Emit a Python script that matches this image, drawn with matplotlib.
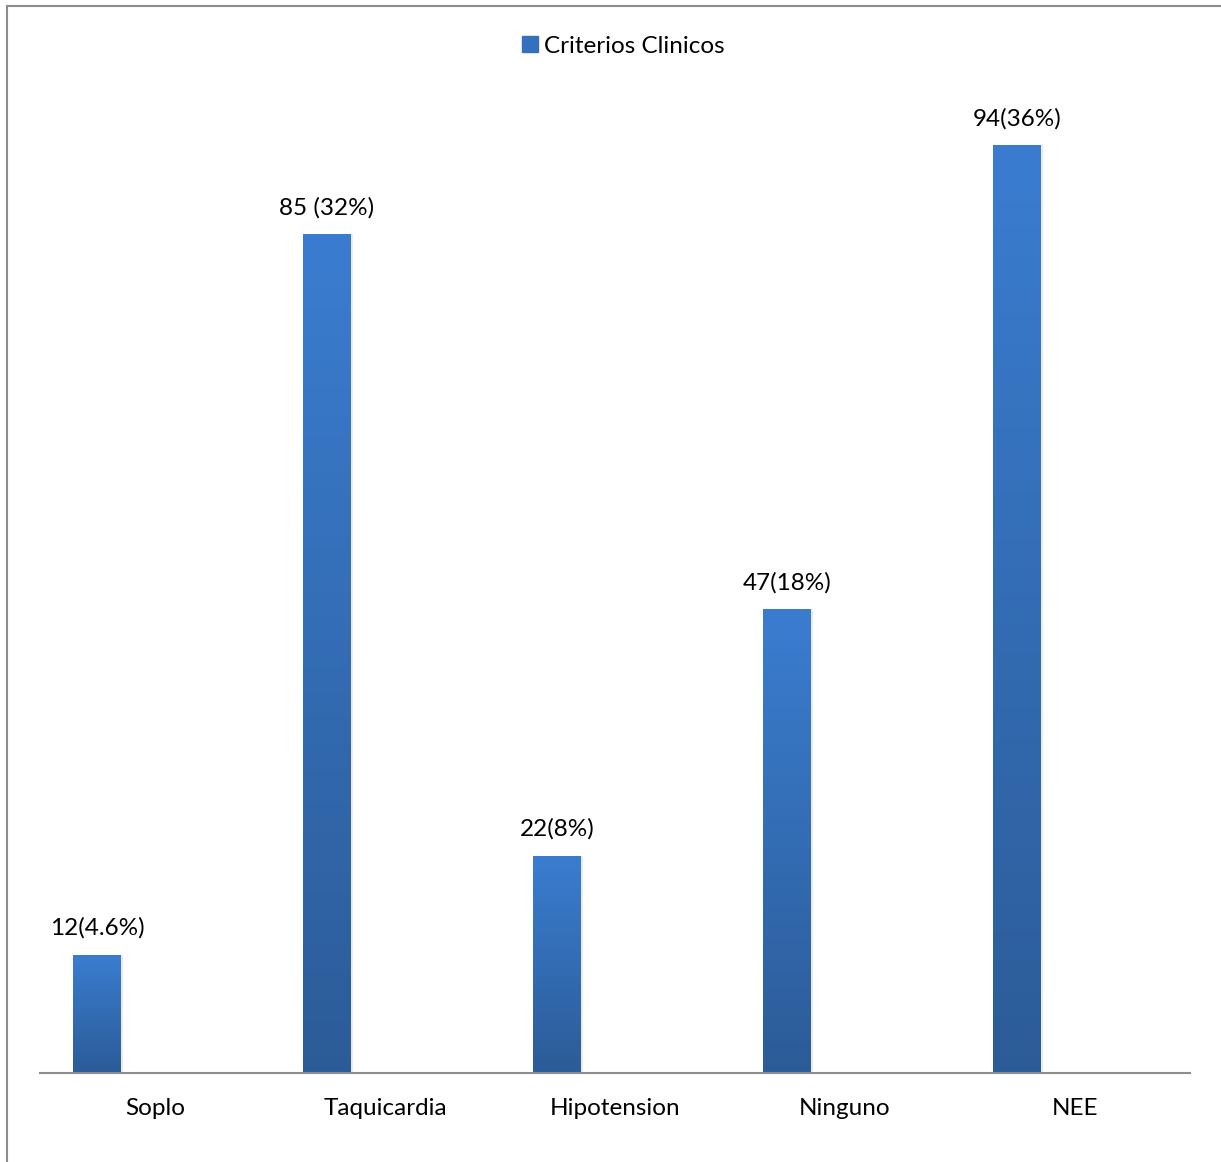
import matplotlib
matplotlib.use("Agg")
import matplotlib.pyplot as plt
import numpy as np
from matplotlib.patches import Rectangle
from matplotlib.colors import LinearSegmentedColormap
from matplotlib.lines import Line2D

categories = ["Soplo", "Taquicardia", "Hipotension", "Ninguno", "NEE"]
values = [12, 85, 22, 47, 94]
labels = ["12(4.6%)", "85 (32%)", "22(8%)", "47(18%)", "94(36%)"]
series_name = "Criterios Clinicos"

plt.rcParams['font.family'] = ['Lato', 'DejaVu Sans']

fig = plt.figure(figsize=(12.21, 11.62), dpi=100)
W, H = 1221, 1162
# axes in pixels: x 40..1190, baseline y=1073, top y=86
ax = fig.add_axes([40 / W, (H - 1073) / H, 1150 / W, (1073 - 86) / H])
ax.set_xlim(-0.5, len(categories) - 0.5)
ax.set_ylim(0, 100)

cmap = LinearSegmentedColormap.from_list("g", ["#2c5c98", "#3a7dd0"])
grad = np.linspace(0, 1, 256).reshape(-1, 1)
offset = -0.252
width = 0.205
for i, v in enumerate(values):
    x0 = i + offset - width / 2
    # shadow
    ax.add_patch(Rectangle((x0 + 0.012, 0), width, v, facecolor="#000000", alpha=0.08,
                           edgecolor="none", zorder=1))
    im = ax.imshow(grad, cmap=cmap, origin="lower", aspect="auto",
                   extent=(x0, x0 + width, 0, v), zorder=2)
    rect = Rectangle((x0, 0), width, v, facecolor="none", edgecolor="none")
    ax.add_patch(rect)
    im.set_clip_path(rect)
    ax.text(i + offset, v + 1.6, labels[i], ha="center", va="bottom", fontsize=17.5, color="#000000")

ax.set_xticks(range(len(categories)))
ax.set_xticklabels(categories, fontsize=17.5)
ax.tick_params(axis="x", length=0, pad=18)
ax.set_yticks([])
for s in ["top", "right", "left"]:
    ax.spines[s].set_visible(False)
ax.spines["bottom"].set_color("#8c8c8c")
ax.spines["bottom"].set_linewidth(1.5)
ax.set_xlim(-0.5, len(categories) - 0.5)
ax.set_ylim(0, 100)

handle = Line2D([], [], marker="s", linestyle="none", markersize=11,
                markerfacecolor="#3570bd", markeredgecolor="#3570bd")
fig.legend([handle], [series_name], loc="center", bbox_to_anchor=(622 / W, 1 - 46 / H),
           frameon=False, fontsize=17.5, handletextpad=0.1, handlelength=0.9)

# outer border lines (top and left)
fig.add_artist(Line2D([7 / W, 1], [1 - 6 / H, 1 - 6 / H], color="#8c8c8c", lw=1.5,
                      transform=fig.transFigure))
fig.add_artist(Line2D([7 / W, 7 / W], [0, 1 - 6 / H], color="#8c8c8c", lw=1.5,
                      transform=fig.transFigure))

fig.savefig("out.png", dpi=100, facecolor="white")
